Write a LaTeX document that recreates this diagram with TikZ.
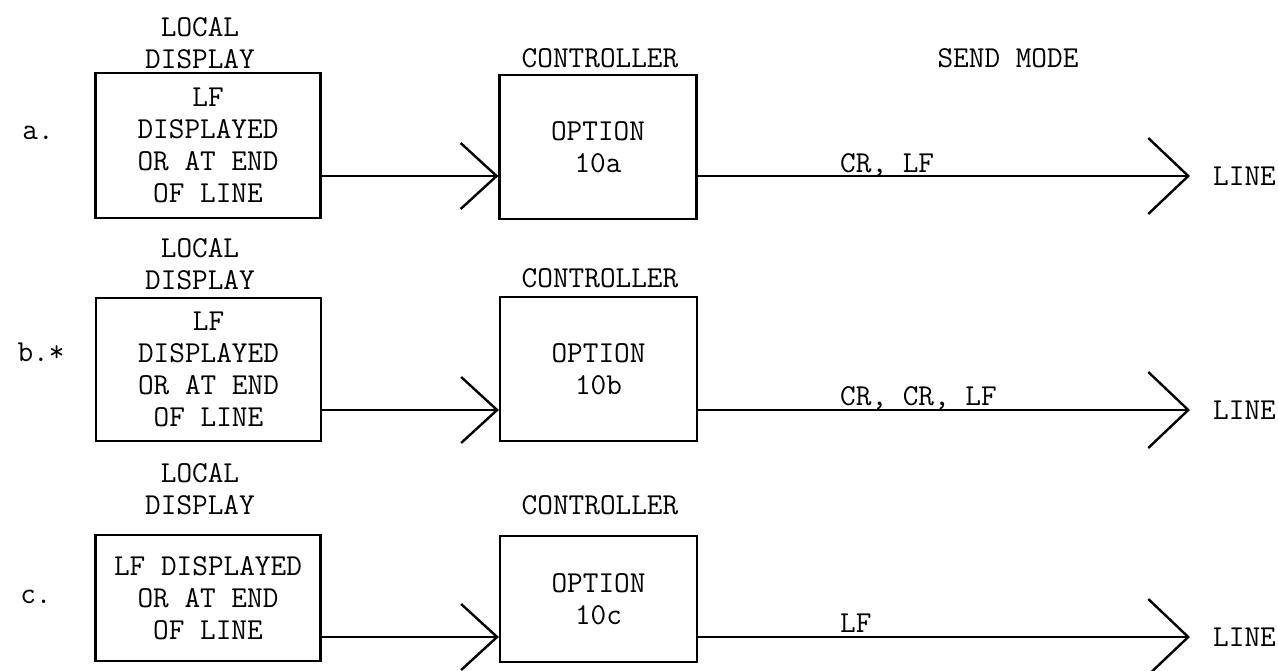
\documentclass[tikz,border=0pt]{standalone}
\usepackage{tikz}
\usetikzlibrary{arrows.meta, positioning}
\newcommand{\typewr}{\ttfamily\fontsize{30.4}{32}\selectfont}
\tikzset{
  every node/.style={font=\typewr, inner sep=0pt},
  head/.style={align=center},
  dispbox/.style={draw, line width=2.2pt, align=center, minimum width=225pt},
  ctrlbox/.style={draw, line width=2.2pt, align=center, minimum width=197pt},
  feed/.style={line width=2.4pt, -{Straight Barb[length=36pt, width=66pt]}},
  send/.style={line width=2.4pt, -{Straight Barb[length=40pt, width=76pt]}},
}

\begin{document}
\begin{tikzpicture}[x=1pt, y=-1pt]
  \useasboundingbox (0,0) rectangle (1278,670);

  % case a
  \node (taga) at (38,133) {a.};
  \node[head] (hla) at (200,43) {LOCAL\\DISPLAY};
  \node[dispbox, minimum height=145pt] (la) at (208,145.5) {LF\\DISPLAYED\\OR AT END\\OF LINE};
  \node[head] (hca) at (600,58) {CONTROLLER};
  \node[ctrlbox, minimum height=144pt] (ca) at (598,147) {OPTION\\10a};
  \node (mode) at (1008,58) {SEND MODE};
  \coordinate (ya) at (0,176);
  \coordinate (tipa) at (1190,176);
  \node[anchor=west] (linea) at (1213,176) {LINE};
  \node[anchor=base west] (sa) at (840,172) {CR, LF};
  \draw[feed] (la.east |- ya) -- (ca.west |- ya);
  \draw[send] (ca.east |- ya) -- (tipa);

  % case b
  \node (tagb) at (41,352) {b.*};
  \node[head] (hlb) at (200,264) {LOCAL\\DISPLAY};
  \node[dispbox, minimum height=143pt] (lb) at (208.5,369.5) {LF\\DISPLAYED\\OR AT END\\OF LINE};
  \node[head] (hcb) at (600,278) {CONTROLLER};
  \node[ctrlbox, minimum height=144pt] (cb) at (598.5,369) {OPTION\\10b};
  \coordinate (yb) at (0,410);
  \coordinate (tipb) at (1190,410);
  \node[anchor=west] (lineb) at (1213,410) {LINE};
  \node[anchor=base west] (sb) at (840,405) {CR, CR, LF};
  \draw[feed] (lb.east |- yb) -- (cb.west |- yb);
  \draw[send] (cb.east |- yb) -- (tipb);

  % case c
  \node (tagc) at (36,597) {c.};
  \node[head] (hlc) at (200,489) {LOCAL\\DISPLAY};
  \node[dispbox, minimum height=126pt] (lc) at (208,598) {LF DISPLAYED\\OR AT END\\OF LINE};
  \node[head] (hcc) at (600,505) {CONTROLLER};
  \node[ctrlbox, minimum height=126pt] (cc) at (598.5,599) {OPTION\\10c};
  \coordinate (yc) at (0,637);
  \coordinate (tipc) at (1190,637);
  \node[anchor=west] (linec) at (1213,637) {LINE};
  \node[anchor=base west] (sc) at (840,632) {LF};
  \draw[feed] (lc.east |- yc) -- (cc.west |- yc);
  \draw[send] (cc.east |- yc) -- (tipc);
\end{tikzpicture}
\end{document}
